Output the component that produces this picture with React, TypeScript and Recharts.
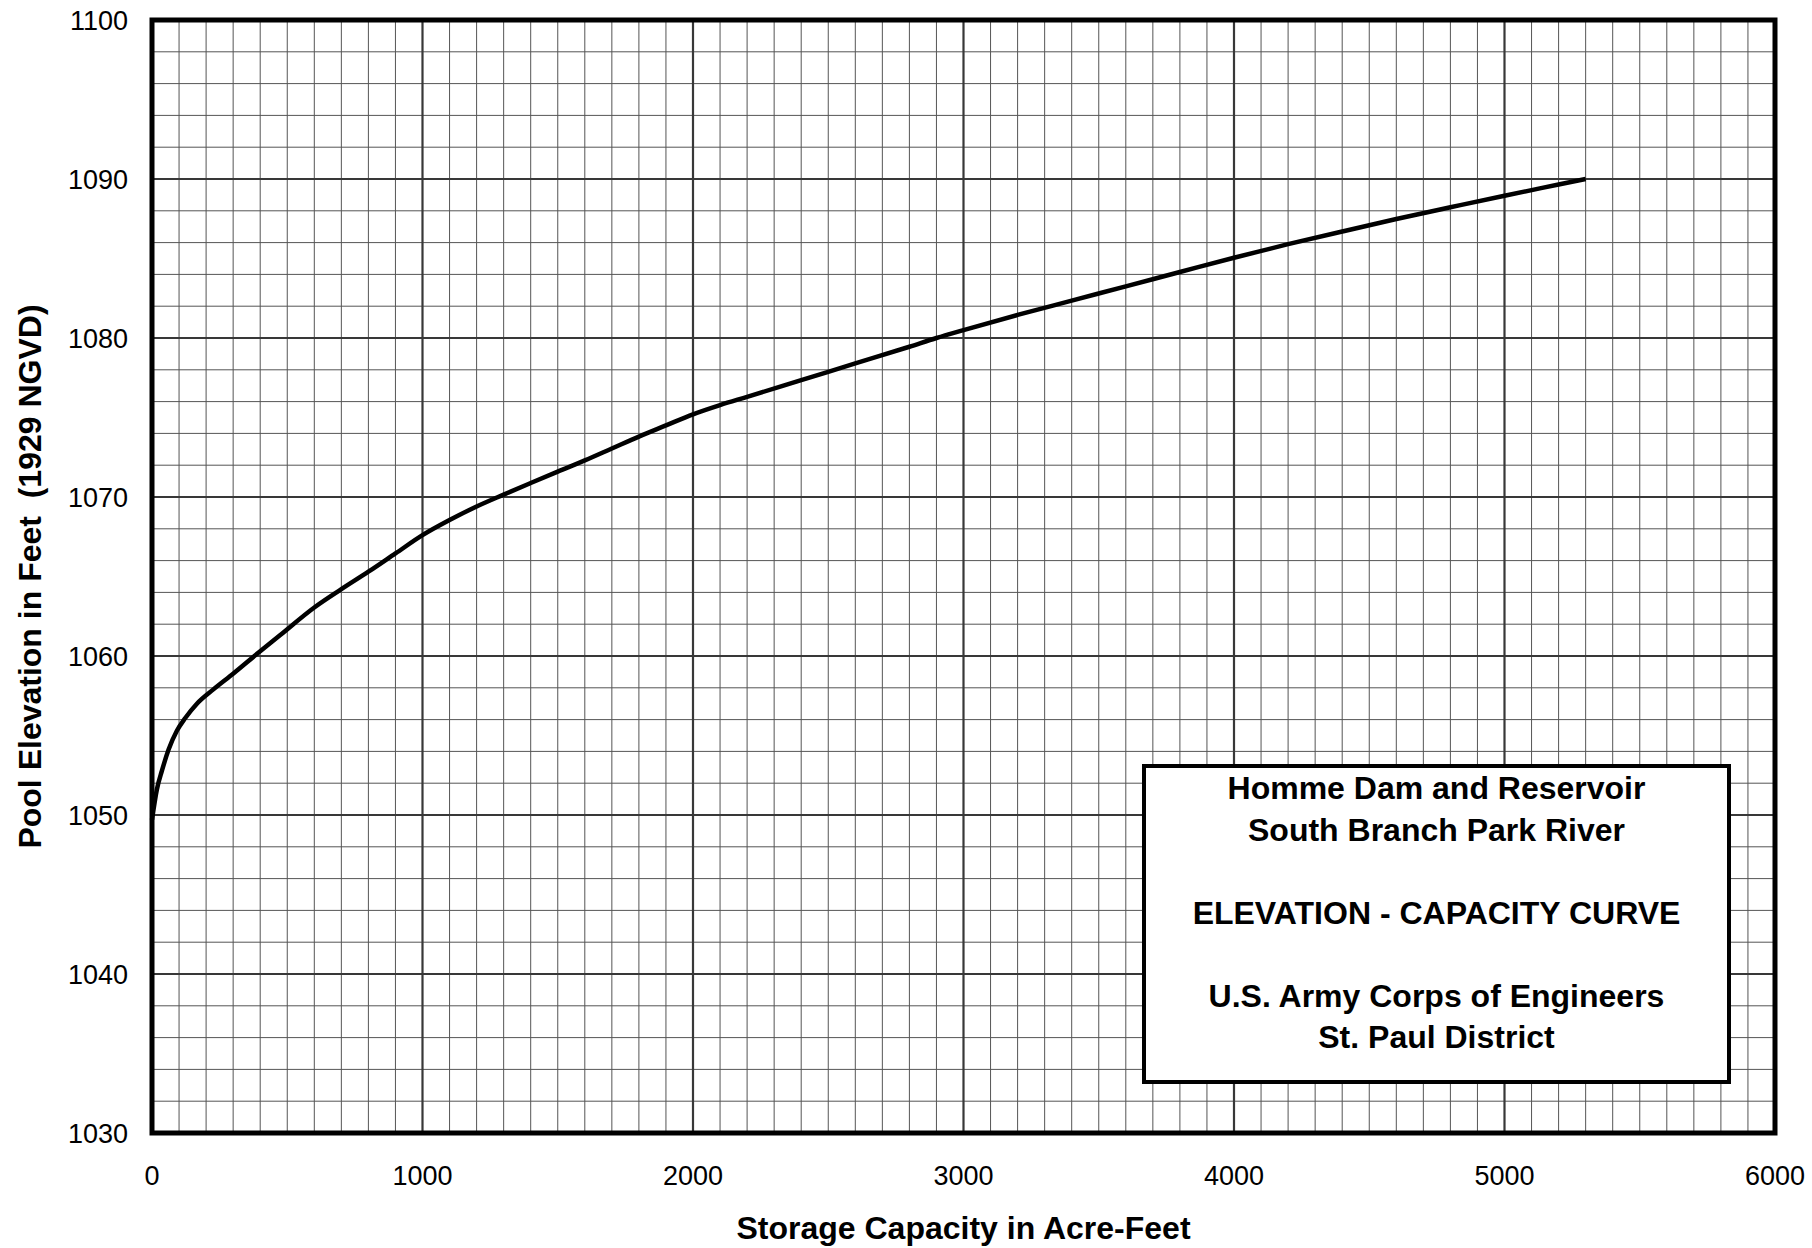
import React from "react";
import { CartesianGrid, Label, Line, LineChart, ReferenceArea, XAxis, YAxis } from "recharts";

// storage capacity (acre-feet) vs pool elevation (ft, 1929 NGVD)
const capacity = [
  0, 18, 37, 61, 92, 123, 166, 227, 301, 393, 473, 600, 700, 800, 900, 1000, 1100, 1200, 1300, 1400, 1500,
  1600, 1700, 1800, 1900, 2000, 2100, 2200, 2400, 2600, 2800, 2900, 3000, 3200, 3400, 3600, 3800, 4000,
  4200, 4400, 4600, 4800, 5000, 5200, 5300,
];
const elevation = [
  1049.7, 1051.6, 1052.8, 1054.1, 1055.3, 1056.1, 1057.0, 1057.9, 1058.9, 1060.2, 1061.3, 1063.05, 1064.2,
  1065.3, 1066.45, 1067.6, 1068.55, 1069.4, 1070.15, 1070.88, 1071.6, 1072.3, 1073.05, 1073.8, 1074.5,
  1075.2, 1075.78, 1076.3, 1077.35, 1078.4, 1079.45, 1080.0, 1080.5, 1081.45, 1082.35, 1083.25, 1084.15,
  1085.05, 1085.9, 1086.7, 1087.48, 1088.22, 1088.95, 1089.65, 1090,
];

const xTicks = [0, 1000, 2000, 3000, 4000, 5000, 6000];
const yTicks = [1030, 1040, 1050, 1060, 1070, 1080, 1090, 1100];
const xMinor = Array.from({ length: 61 }, (_, i) => i * 100);
const yMinor = Array.from({ length: 36 }, (_, i) => 1030 + i * 2);

const boxLines = [
  "Homme Dam and Reservoir",
  "South Branch Park River",
  "",
  "ELEVATION - CAPACITY CURVE",
  "",
  "U.S. Army Corps of Engineers",
  "St. Paul District",
];

const data = capacity.map((c, i) => ({ capacity: c, elevation: elevation[i] }));

const FONT = "'Liberation Sans', Arial, Helvetica, sans-serif";

export default function App() {
  return (
    <div style={{ position: "absolute", left: 0, top: 0, width: 1812, height: 1248, background: "#fff", fontFamily: FONT }}>
      <LineChart width={1812} height={1248} data={data} margin={{ top: 20, right: 37, bottom: 0, left: 0 }}>
        <CartesianGrid stroke="#555" strokeWidth={1} verticalValues={xMinor} horizontalValues={yMinor} />
        <CartesianGrid stroke="#383838" strokeWidth={2.2} verticalValues={xTicks} horizontalValues={yTicks} />
        <XAxis
          dataKey="capacity"
          type="number"
          domain={[0, 6000]}
          ticks={xTicks}
          interval={0}
          axisLine={false}
          tickLine={false}
          tickSize={0}
          tickMargin={33}
          height={115}
          tick={{ fontSize: 27, fill: "#000", fontFamily: FONT }}
        >
          <Label
            value="Storage Capacity in Acre-Feet"
            position="insideBottom"
            offset={9}
            style={{ fontSize: 32, fontWeight: "bold", fill: "#000", fontFamily: FONT }}
          />
        </XAxis>
        <YAxis
          type="number"
          domain={[1030, 1100]}
          ticks={yTicks}
          interval={0}
          axisLine={false}
          tickLine={false}
          tickSize={0}
          tickMargin={24}
          width={152}
          tick={{ fontSize: 27, fill: "#000", fontFamily: FONT }}
        >
          <Label
            content={({ viewBox }: any) => {
              const cx = viewBox.x + 30;
              const cy = viewBox.y + viewBox.height / 2;
              return (
                <text
                  x={cx}
                  y={cy}
                  transform={`rotate(-90 ${cx} ${cy})`}
                  textAnchor="middle"
                  dominantBaseline="central"
                  style={{ fontSize: 32, fontWeight: "bold", fill: "#000", fontFamily: FONT }}
                >
                  {"Pool Elevation in Feet \u00a0(1929 NGVD)"}
                </text>
              );
            }}
          />
        </YAxis>
        <Line
          dataKey="elevation"
          type="monotone"
          stroke="#000"
          strokeWidth={4.5}
          dot={false}
          isAnimationActive={false}
        />
        <ReferenceArea x1={0} x2={6000} y1={1030} y2={1100} fill="none" stroke="#000" strokeWidth={5} ifOverflow="visible" />
      </LineChart>
      <div
        style={{
          position: "absolute",
          left: 1142,
          top: 764,
          width: 589,
          height: 320,
          boxSizing: "border-box",
          border: "4.5px solid #000",
          background: "#fff",
          textAlign: "center",
          fontWeight: "bold",
          fontSize: 32,
          lineHeight: "41.5px",
          color: "#000",
        }}
      >
        {boxLines.map((t, i) => (
          <div key={i} style={{ height: 41.5 }}>
            {t}
          </div>
        ))}
      </div>
    </div>
  );
}
